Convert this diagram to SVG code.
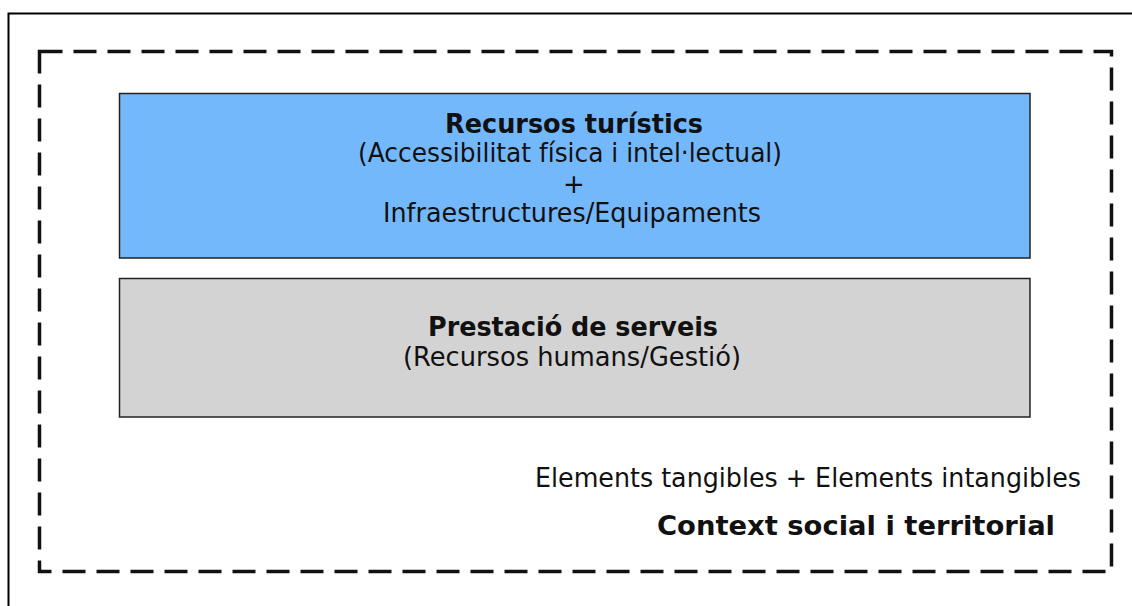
<svg xmlns="http://www.w3.org/2000/svg" width="1132" height="606" viewBox="0 0 1132 606">
<style>
.t{font-family:"DejaVu Sans",Verdana,sans-serif;fill:#111;text-anchor:middle;font-size:26px}
.b{font-weight:bold;font-size:26px}
.box{stroke:#222;stroke-width:1.5}
</style>
<rect width="1132" height="606" fill="#fff"/>
<rect x="8.5" y="13.5" width="1140" height="610" fill="none" stroke="#000" stroke-width="2"/>
<g id="context">
<rect x="39.5" y="51.5" width="1072" height="520" fill="none" stroke="#111" stroke-width="3.5" stroke-dasharray="23,11"/>
<text class="t" x="808" y="487" textLength="546" lengthAdjust="spacingAndGlyphs">Elements tangibles + Elements intangibles</text>
<text class="t b" x="856" y="535" textLength="398" lengthAdjust="spacingAndGlyphs">Context social i territorial</text>
</g>
<g id="recursos">
<rect class="box" x="119.5" y="93.5" width="910.5" height="164.5" fill="#74B8FC"/>
<text class="t b" x="574" y="133" textLength="258" lengthAdjust="spacingAndGlyphs">Recursos turístics</text>
<text class="t" x="570" y="162" textLength="424" lengthAdjust="spacingAndGlyphs">(Accessibilitat física i intel·lectual)</text>
<text class="t" x="574" y="193">+</text>
<text class="t" x="572" y="222" textLength="378" lengthAdjust="spacingAndGlyphs">Infraestructures/Equipaments</text>
</g>
<g id="prestacio">
<rect class="box" x="119.5" y="278.5" width="910.5" height="138.5" fill="#D3D3D3"/>
<text class="t b" x="573" y="336" textLength="290" lengthAdjust="spacingAndGlyphs">Prestació de serveis</text>
<text class="t" x="572" y="366" textLength="338" lengthAdjust="spacingAndGlyphs">(Recursos humans/Gestió)</text>
</g>
<g id="connectors"></g>
</svg>
